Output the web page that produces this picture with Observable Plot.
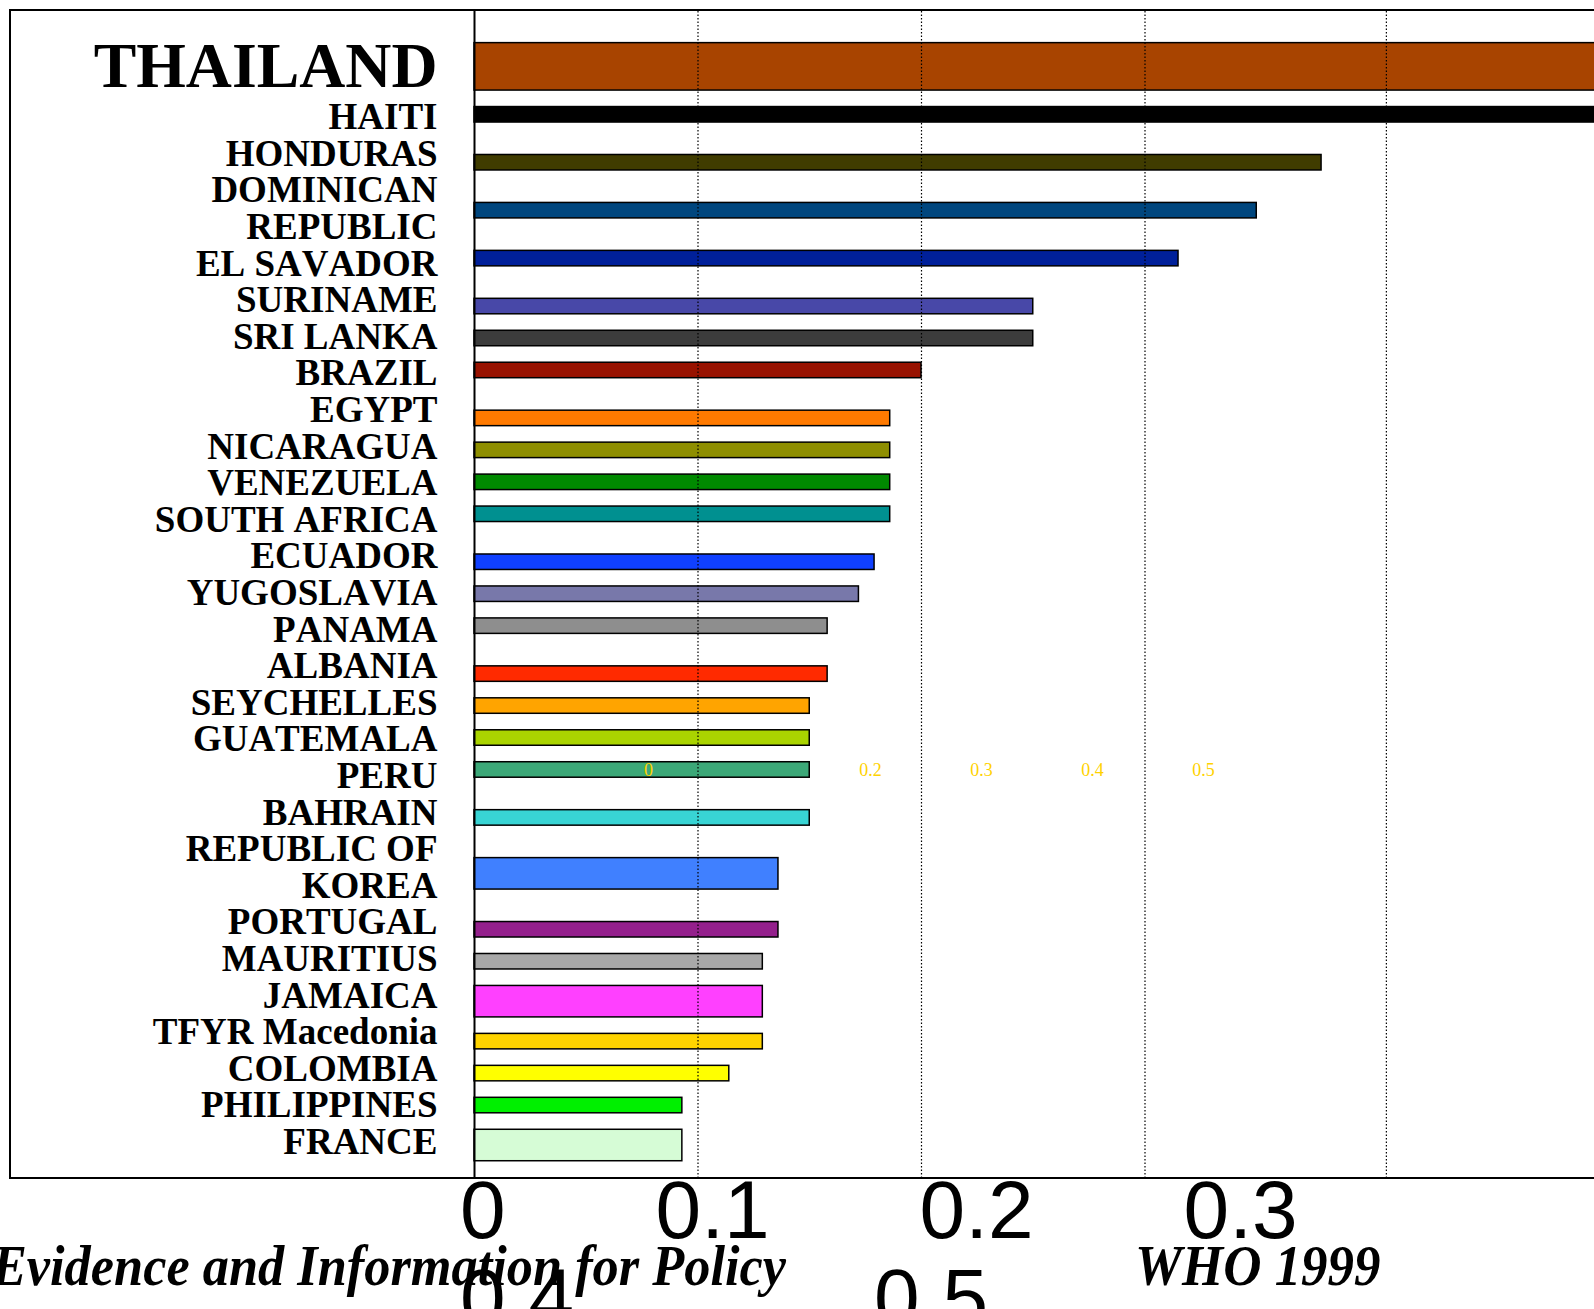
<!DOCTYPE html>
<html><head><meta charset="utf-8">
<script src="https://cdn.jsdelivr.net/npm/d3@7"></script>
<script src="https://cdn.jsdelivr.net/npm/@observablehq/plot@0.6"></script>
<style>
html,body{margin:0;padding:0;background:#fff;overflow:hidden;width:1594px;height:1309px;position:relative;}
#frame{position:absolute;left:9px;top:9px;width:1800px;height:1166px;border-top:2px solid #000;border-left:2px solid #000;border-bottom:2px solid #000;}
#chart svg{max-width:none !important;display:block;background:transparent;}
#chart svg text{font-kerning:none;}
#bigTicks{position:absolute;left:460px;top:1166px;width:1000px;display:flex;flex-wrap:wrap;column-gap:150px;font-family:"Liberation Sans",Arial,sans-serif;font-size:82px;line-height:88px;color:#000;}
#smallTicks{position:absolute;left:593px;top:761px;display:flex;font-family:"Liberation Serif",serif;font-size:18px;line-height:18px;color:#FFD200;}
#smallTicks span{width:111px;text-align:center;}
.cap{position:absolute;top:1238px;font-family:"Liberation Serif","Times New Roman",serif;font-weight:bold;font-style:italic;font-size:56px;line-height:56px;white-space:nowrap;color:#000;transform-origin:0 0;font-kerning:none;}
</style>
</head>
<body>
<div id="frame"><div id="chart"></div></div>
<div id="smallTicks"></div>
<div class="cap" id="capLeft"></div>
<div class="cap" id="capRight"></div>
<div id="bigTicks"></div>
<script>
// ---- data ----
const countries = ["THAILAND","HAITI","HONDURAS","DOMINICAN REPUBLIC","EL SAVADOR","SURINAME","SRI LANKA","BRAZIL","EGYPT","NICARAGUA","VENEZUELA","SOUTH AFRICA","ECUADOR","YUGOSLAVIA","PANAMA","ALBANIA","SEYCHELLES","GUATEMALA","PERU","BAHRAIN","REPUBLIC OF KOREA","PORTUGAL","MAURITIUS","JAMAICA","TFYR Macedonia","COLOMBIA","PHILIPPINES","FRANCE"];
const labels = ["THAILAND","HAITI","HONDURAS","DOMINICAN\nREPUBLIC","EL SAVADOR","SURINAME","SRI LANKA","BRAZIL","EGYPT","NICARAGUA","VENEZUELA","SOUTH AFRICA","ECUADOR","YUGOSLAVIA","PANAMA","ALBANIA","SEYCHELLES","GUATEMALA","PERU","BAHRAIN","REPUBLIC OF\nKOREA","PORTUGAL","MAURITIUS","JAMAICA","TFYR Macedonia","COLOMBIA","PHILIPPINES","FRANCE"];
const values = [0.62,0.58,0.379,0.350,0.315,0.250,0.250,0.200,0.186,0.186,0.186,0.186,0.179,0.172,0.158,0.158,0.150,0.150,0.150,0.150,0.136,0.136,0.129,0.129,0.129,0.114,0.093,0.093];
const barColors = ["#A84400","#000000","#403C00","#00467E","#00209A","#4848A8","#3C3C3C","#981200","#FF7A00","#8E8E00","#008A00","#009090","#1040FF","#7878AA","#8E8E8E","#FF2A00","#FFA400","#AAD400","#3CA878","#38D4D4","#4080FF","#94208C","#A8A8A8","#FF40FF","#FFD400","#FFFF00","#00F000","#D6FCD6"];
const gridValues = [0.1, 0.2, 0.3, 0.408];
const tickLabels = ["0","0.1","0.2","0.3","0.4","0.5"];
const smallTickLabels = ["0","0.1","0.2","0.3","0.4","0.5"];
const captionLeft = "Evidence and Information for Policy";
const captionRight = "WHO 1999";

// ---- layout (style, not data) ----
const W = 1800, H = 1166, lineH = 36.6, slotPx = 15.98, slotOrigin = -0.83;
const thickRows = {"THAILAND": 3, "REPUBLIC OF KOREA": 2, "JAMAICA": 2, "FRANCE": 2};
const thaiCenter = 1.503, firstLine = 2.896;

let start = firstLine;
const rows = countries.map((c, i) => {
  const n = labels[i].split("\n").length;
  let cy;
  if (i === 0) cy = thaiCenter;
  else { cy = start + (n - 1) / 2; start += n; }
  const r = thickRows[c] || 1;
  // bars sit on a regular slot grid, next to their label
  const slotIdx = Math.floor((cy * lineH - slotOrigin) / slotPx - (r - 1) / 2 + 0.07);
  const topPx = slotOrigin + slotIdx * slotPx + 0.5;
  const botPx = topPx + r * slotPx - 0.5;
  return {country: c, label: labels[i], value: values[i], cy, top: topPx / lineH, bottom: botPx / lineH};
});

const plot = Plot.plot({
  width: W, height: H,
  marginLeft: 463, marginRight: W - 463 - 1117.5, marginTop: 0, marginBottom: 0,
  style: {background: "transparent", overflow: "visible"},
  x: {domain: [0, 0.5], axis: null},
  y: {domain: [0, H / lineH], range: [0, H], axis: null},
  color: {domain: countries, range: barColors},
  marks: [
    Plot.rect(rows, {x1: 0, x2: "value", y1: "top", y2: "bottom", fill: "country", stroke: "#000", strokeWidth: 1.5}),
    Plot.ruleX(gridValues, {stroke: "#000", strokeWidth: 1.2, strokeDasharray: "1.5,2"}),
    Plot.ruleX([0], {stroke: "#000", strokeWidth: 2}),
    Plot.text(rows.slice(0, 1), {y: "cy", text: "label", frameAnchor: "left", textAnchor: "end", dx: -37, fontSize: 63.8, fontWeight: "bold", fontFamily: "Liberation Serif", lineAnchor: "middle", fill: "#000"}),
    Plot.text(rows.slice(1), {y: "cy", text: "label", frameAnchor: "left", textAnchor: "end", dx: -37, fontSize: 37, fontWeight: "bold", fontFamily: "Liberation Serif", lineHeight: 36.6 / 37, lineAnchor: "middle", fill: "#000"})
  ]
});
document.getElementById("chart").appendChild(plot);

// big tick labels (flowing, as in the reference)
const big = document.getElementById("bigTicks");
tickLabels.forEach((t, i) => {
  if (i === tickLabels.length - 1) { const sp = document.createElement("span"); big.appendChild(sp); }
  const s = document.createElement("span"); s.textContent = t; big.appendChild(s);
});
// small yellow tick labels
const small = document.getElementById("smallTicks");
smallTickLabels.forEach((t, i) => {
  const s = document.createElement("span"); s.textContent = t;
  if (i === 1) s.style.visibility = "hidden";
  small.appendChild(s);
});
const cl = document.getElementById("capLeft");
cl.textContent = captionLeft; cl.style.left = "786px"; cl.style.transform = "scaleX(0.935) translateX(-100%)";
const cr = document.getElementById("capRight");
cr.textContent = captionRight; cr.style.left = "1135px"; cr.style.transform = "scaleX(0.945)";
</script>
</body></html>
